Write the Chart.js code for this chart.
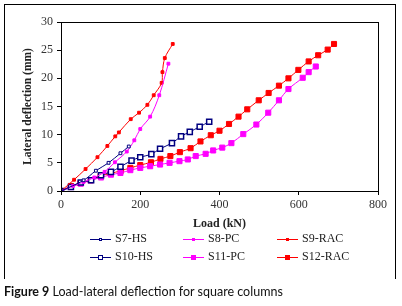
<!DOCTYPE html>
<html>
<head>
<meta charset="utf-8">
<script src="https://cdn.jsdelivr.net/npm/chart.js@4"></script>
<style>
html,body{margin:0;padding:0;background:#fff;}
#wrap{position:relative;width:402px;height:306px;overflow:hidden;}
#c{position:absolute;left:0;top:0;}
#frame{position:absolute;left:4px;top:4px;width:390px;height:274px;border-left:1px solid #000;border-right:1px solid #000;border-top:1px solid #000;}
#legend{position:absolute;left:0;top:0;width:402px;height:306px;font-family:"Liberation Serif","Times New Roman",serif;font-size:12px;color:#222;}
.item{position:absolute;height:14px;line-height:14px;white-space:nowrap;}
.sym{position:absolute;left:0;top:0;width:21px;height:14px;}
.sym .ln{position:absolute;left:0;top:7px;width:21px;height:1px;}
.sym .mk{position:absolute;box-sizing:border-box;}
.item .tx{position:absolute;left:25px;top:-1px;}
#cap{position:absolute;left:4px;top:284px;font-family:Lato,"Open Sans",sans-serif;font-size:12.5px;color:#111;white-space:nowrap;}
</style>
</head>
<body>
<div id="wrap">
<canvas id="c" width="402" height="306"></canvas>
<div id="frame"></div>
<div id="legend"></div>
<div id="cap"><b>Figure 9</b> Load-lateral deflection for square columns</div>
</div>
<script>
// ---- data ----
const seriesNames = ["S7-HS", "S8-PC", "S9-RAC", "S10-HS", "S11-PC", "S12-RAC"];
const xTicks = [0, 200, 400, 600, 800];
const yTicks = [0, 5, 10, 15, 20, 25, 30];

const s7Load = [0, 57, 88, 120, 150, 171];
const s7Defl = [0, 1.9, 3.6, 5.0, 6.7, 7.9];

const s8Load = [0, 30, 57, 84, 110, 136, 166, 185, 200, 225, 248, 271];
const s8Defl = [0, 0.9, 1.6, 2.4, 3.4, 5.1, 7.0, 9.0, 11.0, 13.2, 17.0, 22.6];

const s9Load = [0, 33, 62, 92, 117, 137, 146, 176, 197, 218, 234, 254, 256, 262, 282];
const s9Defl = [0, 2.0, 3.9, 6.0, 8.0, 9.7, 10.4, 12.75, 13.9, 15.3, 17.0, 19.2, 21.1, 23.6, 26.1];

const s10Load = [0, 25, 50, 76, 101, 126, 150, 178, 200, 228, 250, 280, 303, 325, 350, 374];
const s10Defl = [0, 0.7, 1.5, 1.9, 2.8, 3.4, 4.3, 5.4, 6.0, 6.55, 7.5, 8.5, 9.7, 10.5, 11.4, 12.3];

const s11Load = [0, 25, 50, 75, 101, 126, 150, 175, 200, 225, 250, 274, 299, 320, 340, 365, 384, 407, 430, 460, 493, 523, 550, 574, 610, 625, 643];
const s11Defl = [0, 0.7, 1.3, 1.9, 2.4, 2.9, 3.2, 3.7, 4.1, 4.4, 4.7, 5.0, 5.3, 5.6, 6.2, 6.6, 7.2, 7.7, 8.5, 10.1, 11.8, 13.9, 16.1, 18.1, 20.1, 21.1, 22.1];

const s12Load = [0, 25, 49, 75, 100, 125, 151, 175, 200, 227, 251, 276, 300, 327, 352, 378, 400, 424, 448, 470, 499, 524, 550, 574, 599, 625, 649, 673, 689];
const s12Defl = [0, 0.9, 1.4, 1.9, 2.7, 3.1, 3.6, 4.1, 4.6, 5.1, 5.7, 6.2, 6.9, 7.6, 8.8, 9.9, 10.7, 11.9, 13.2, 14.5, 16.1, 17.4, 18.7, 20.0, 21.5, 23.0, 24.1, 25.1, 26.1];

// ---- styles ----
const NAVY = "#000080", MAG = "#FF00FF", RED = "#FF0000";
const pts = (xs, ys) => xs.map((x, i) => ({x: x, y: ys[i]}));
const styles = [
  {color: NAVY, fill: "#fff", r: 2, bw: 1},
  {color: MAG, fill: MAG, r: 2, bw: 1},
  {color: RED, fill: RED, r: 2, bw: 1},
  {color: NAVY, fill: "#fff", r: 3.6, bw: 1.5},
  {color: MAG, fill: MAG, r: 3.6, bw: 1},
  {color: RED, fill: RED, r: 3.6, bw: 1}
];
const seriesData = [
  pts(s7Load, s7Defl), pts(s8Load, s8Defl), pts(s9Load, s9Defl),
  pts(s10Load, s10Defl), pts(s11Load, s11Defl), pts(s12Load, s12Defl)
];

const datasets = seriesNames.map((n, i) => ({
  label: n,
  data: seriesData[i],
  borderColor: styles[i].color,
  borderWidth: 1,
  tension: 0.35,
  pointStyle: "rect",
  pointRadius: styles[i].r,
  pointBackgroundColor: styles[i].fill,
  pointBorderColor: styles[i].color,
  pointBorderWidth: styles[i].bw,
  fill: false
}));

const boxPlugin = {
  id: "box",
  afterDraw(chart) {
    const a = chart.chartArea, ctx = chart.ctx;
    ctx.save();
    ctx.strokeStyle = "#000";
    ctx.lineWidth = 1;
    ctx.strokeRect(Math.round(a.left) + 0.5, Math.round(a.top) + 0.5, Math.round(a.right - a.left), Math.round(a.bottom - a.top));
    ctx.restore();
  }
};

const tickFont = {family: "'Liberation Serif','Times New Roman',serif", size: 12};
new Chart(document.getElementById("c"), {
  type: "line",
  data: {datasets: datasets},
  options: {
    responsive: false,
    animation: false,
    devicePixelRatio: 1,
    layout: {padding: {left: 21, right: 24, top: 22, bottom: 75}},
    plugins: {legend: {display: false}, tooltip: {enabled: false}},
    scales: {
      x: {
        type: "linear", min: 0, max: 800,
        afterBuildTicks(s) { s.ticks = xTicks.map(v => ({value: v})); },
        afterFit(s) { s.height = 40; },
        grid: {display: true, drawOnChartArea: false, drawTicks: true, tickLength: 4, color: "#000"},
        border: {color: "#000", width: 1},
        ticks: {font: tickFont, color: "#333", padding: 3, maxRotation: 0},
        title: {display: true, text: "Load (kN)", font: {family: "'Liberation Serif','Times New Roman',serif", size: 12, weight: "bold"}, color: "#222", padding: {top: 2, bottom: 0}}
      },
      y: {
        type: "linear", min: 0, max: 30,
        afterBuildTicks(s) { s.ticks = yTicks.map(v => ({value: v})); },
        afterFit(s) { s.width = 40; },
        grid: {display: true, drawOnChartArea: false, drawTicks: true, tickLength: 4, color: "#000"},
        border: {color: "#000", width: 1},
        ticks: {font: tickFont, color: "#333", padding: 4},
        title: {display: true, text: "Lateral deflection (mm)", font: {family: "'Liberation Serif','Times New Roman',serif", size: 11.5, weight: "bold"}, color: "#222", padding: {top: 0, bottom: 0}}
      }
    }
  },
  plugins: [boxPlugin]
});

// ---- HTML legend (3 columns x 2 rows) ----
const legend = document.getElementById("legend");
const colX = [90, 183, 277];
const rowY = [232, 250];
seriesNames.forEach((n, i) => {
  const st = styles[i];
  const it = document.createElement("div");
  it.className = "item";
  it.style.left = colX[i % 3] + "px";
  it.style.top = rowY[Math.floor(i / 3)] + "px";
  const side = Math.round(st.r * Math.SQRT2);
  it.innerHTML = '<div class="sym"><div class="ln" style="background:' + st.color + '"></div>' +
    '<div class="mk" style="left:' + (10.5 - side / 2) + 'px;top:' + (7.5 - side / 2) + 'px;width:' + side + 'px;height:' + side +
    'px;background:' + st.fill + ';border:' + st.bw + 'px solid ' + st.color + '"></div></div>' +
    '<span class="tx">' + n + '</span>';
  legend.appendChild(it);
});
</script>
</body>
</html>
